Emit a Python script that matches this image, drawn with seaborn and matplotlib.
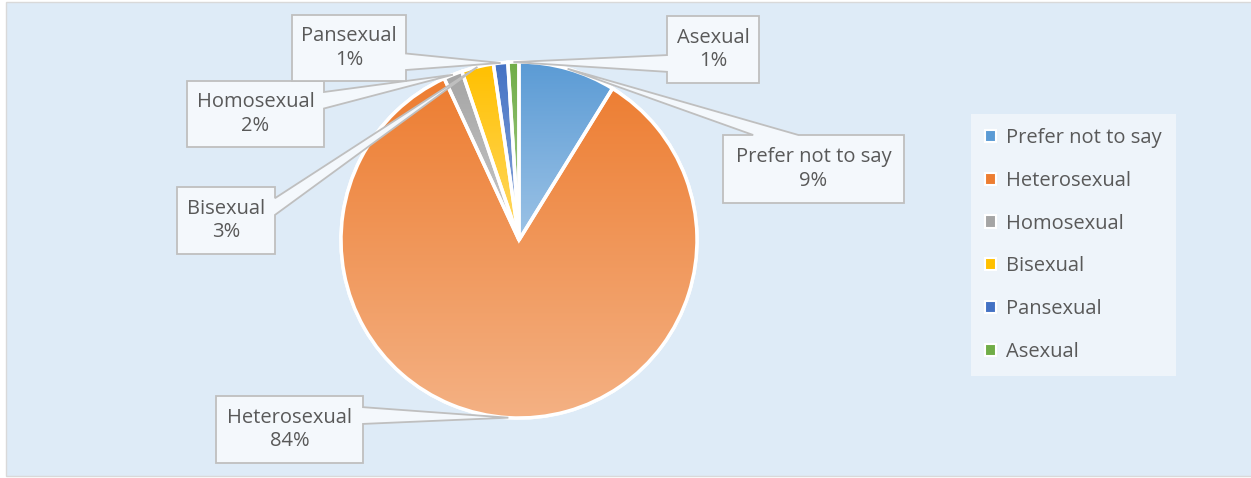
import numpy as np
import matplotlib
matplotlib.use("Agg")
import matplotlib.pyplot as plt
from matplotlib.patches import Wedge, Polygon, Rectangle, Patch
from matplotlib.colors import to_rgb
import seaborn as sns

# data (shares in %)
categories = ["Prefer not to say", "Heterosexual", "Homosexual", "Bisexual", "Pansexual", "Asexual"]
shares = [8.8, 84.3, 1.7, 2.9, 1.3, 1.0]
colors = ["#5B9BD5", "#ED7D31", "#A5A5A5", "#FFC000", "#4472C4", "#70AD47"]

# callout boxes in pixels: left, top, right, bottom
boxes = {
    "Prefer not to say": (723, 135, 904, 203),
    "Heterosexual": (216, 396, 363, 463),
    "Homosexual": (187, 81, 324, 147),
    "Bisexual": (177, 187, 275, 254),
    "Pansexual": (292, 15, 406, 81),
    "Asexual": (667, 16, 759, 83),
}

W, H = 1251, 478
CX, CY, R = 519, 240, 178
TXT = "#595959"
FS = 14.5

sns.set_theme(style="white")
plt.rcParams["font.family"] = ["Open Sans", "DejaVu Sans"]

fig = plt.figure(figsize=(W / 100, H / 100), dpi=100)
fig.patch.set_facecolor("white")
ax = fig.add_axes([0, 0, 1, 1])

def Y(y):
    return H - y

# chart area
ax.add_patch(Rectangle((5.5, Y(476)), W, 474, fc="#DEEBF7", ec="#D9D9D9", lw=1, zorder=0))

wedges, _ = ax.pie(shares, colors=colors, startangle=90, counterclock=False,
                   radius=R, center=(CX, Y(CY)),
                   wedgeprops=dict(edgecolor="white", linewidth=2.5))

# vertical gradient per slice (base colour -> 40% lighter)
t = np.linspace(0, 1, 256)[:, None]
for w, c in zip(wedges, colors):
    top = np.array(to_rgb(c))
    bot = top + 0.4 * (1 - top)
    img = (top * (1 - t) + bot * t)[:, None, :]
    ext = w.get_path().get_extents()
    im = ax.imshow(img, extent=(ext.x0, ext.x1, ext.y0, ext.y1), origin="upper",
                   aspect="auto", interpolation="bilinear", zorder=2)
    im.set_clip_path(w)
    ax.add_patch(Wedge(w.center, w.r, w.theta1, w.theta2, fc="none", ec="white", lw=2.5, zorder=3))


def callout_points(l, t, r, b, tx, ty):
    w, h = r - l, b - t
    dx, dy = tx - (l + r) / 2, ty - (t + b) / 2
    dq = dx * h / w
    x1 = l + w * (7 if dx > 0 else 2) / 12
    x2 = l + w * (10 if dx > 0 else 5) / 12
    y1 = t + h * (7 if dy > 0 else 2) / 12
    y2 = t + h * (10 if dy > 0 else 5) / 12
    if abs(dy) > abs(dq):
        if dy < 0:
            return [(l, t), (x1, t), (tx, ty), (x2, t), (r, t), (r, b), (l, b)]
        return [(l, t), (r, t), (r, b), (x2, b), (tx, ty), (x1, b), (l, b)]
    if dx < 0:
        return [(l, t), (r, t), (r, b), (l, b), (l, y2), (tx, ty), (l, y1)]
    return [(l, t), (r, t), (r, y1), (tx, ty), (r, y2), (r, b), (l, b)]


cum = np.cumsum([0] + shares[:-1])
total = sum(shares)
for name, s, c0 in zip(categories, shares, cum):
    ang = np.deg2rad(90 - 360 * (c0 + s / 2) / total)
    tx, ty = CX + R * np.cos(ang), CY - R * np.sin(ang)
    l, t_, r, b = boxes[name]
    pts = [(x, Y(y)) for x, y in callout_points(l, t_, r, b, tx, ty)]
    ax.add_patch(Polygon(pts, closed=True, fc="#F4F8FC", ec="#BFBFBF", lw=1.3, zorder=5))
    ax.text((l + r) / 2, Y((t_ + b) / 2), f"{name}\n{round(s / total * 100):.0f}%",
            ha="center", va="center", fontsize=FS, color=TXT, linespacing=1.25, zorder=6)

ax.set_xlim(0, W)
ax.set_ylim(0, H)
ax.set_aspect("auto")
ax.axis("off")

handles = [Patch(facecolor=c, edgecolor="white", linewidth=1.5) for c in colors]
leg = ax.legend(handles, categories, loc="upper left", bbox_to_anchor=(971 / W, 1 - 114 / H),
                bbox_transform=fig.transFigure, frameon=True, fancybox=False, framealpha=1,
                facecolor="#EEF4FA", edgecolor="none", fontsize=FS, labelcolor=TXT,
                handlelength=0.55, handleheight=0.55, handletextpad=0.5,
                labelspacing=1.13, borderpad=0.7, borderaxespad=0)

fig.savefig("out.png", dpi=100, facecolor="white")
